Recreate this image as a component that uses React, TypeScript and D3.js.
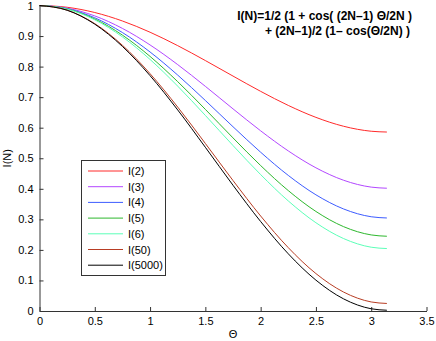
import React, { useEffect, useRef } from 'react';
import * as d3 from 'd3';

// sample angles (x) and I(N) values
const theta = [0, 0.25, 0.5, 0.75, 1, 1.25, 1.5, 1.75, 2, 2.25, 2.5, 2.75, 3, 3.1416];
const i2 = [1, 0.9942, 0.977, 0.9493, 0.9125, 0.8686, 0.8198, 0.769, 0.719, 0.6729, 0.6338, 0.6047, 0.5884, 0.5858];
const i3 = [1, 0.9914, 0.9659, 0.925, 0.8709, 0.8065, 0.7354, 0.6617, 0.5898, 0.524, 0.4687, 0.428, 0.4055, 0.4019];
const i4 = [1, 0.9898, 0.9597, 0.9115, 0.8478, 0.7722, 0.6891, 0.6032, 0.5197, 0.4438, 0.3803, 0.334, 0.3085, 0.3045];
const i5 = [1, 0.9888, 0.9559, 0.903, 0.8333, 0.7507, 0.66, 0.5666, 0.4761, 0.3941, 0.3258, 0.2761, 0.249, 0.2447];
const i6 = [1, 0.9881, 0.9532, 0.8972, 0.8233, 0.736, 0.6402, 0.5417, 0.4465, 0.3603, 0.2889, 0.2371, 0.2088, 0.2044];
const i50 = [1, 0.9849, 0.9406, 0.8698, 0.7768, 0.6675, 0.5484, 0.4271, 0.311, 0.2073, 0.1225, 0.062, 0.0296, 0.0247];
const i5000 = [1, 0.9845, 0.9389, 0.866, 0.7704, 0.6581, 0.5359, 0.4116, 0.2929, 0.1872, 0.101, 0.0397, 0.0073, 0.0025];

const seriesNames = ['I(2)', 'I(3)', 'I(4)', 'I(5)', 'I(6)', 'I(50)', 'I(5000)'];
const seriesValues = [i2, i3, i4, i5, i6, i50, i5000];
const colors = ['#ff2a2a', '#b347ff', '#3d5cff', '#2eb82e', '#5cffb8', '#b83d24', '#000000'];

const xTicks = [0, 0.5, 1, 1.5, 2, 2.5, 3, 3.5];
const yTicks = [0, 0.1, 0.2, 0.3, 0.4, 0.5, 0.6, 0.7, 0.8, 0.9, 1];

const W = 436;
const H = 341;
const FONT = '"Liberation Sans", Arial, Helvetica, sans-serif';

export default function App() {
    const ref = useRef<SVGSVGElement>(null);

    useEffect(() => {
        document.body.style.margin = '0';
        const svg = d3.select(ref.current);
        svg.selectAll('*').remove();

        const x = d3.scaleLinear().domain([0, 3.5]).range([39.5, 426.5]);
        const y = d3.scaleLinear().domain([0, 1]).range([311, 5.5]);

        // axes, ticks pointing inward like matlab
        const xAxis = svg.append('g')
            .attr('transform', 'translate(0,' + y(0) + ')')
            .call(d3.axisBottom(x).tickValues(xTicks).tickSizeInner(-4).tickSizeOuter(0).tickPadding(6)
                .tickFormat(d => String(d)));
        const yAxis = svg.append('g')
            .attr('transform', 'translate(' + x(0) + ',0)')
            .call(d3.axisLeft(y).tickValues(yTicks).tickSizeInner(-4).tickSizeOuter(0).tickPadding(6)
                .tickFormat(d => String(d)));
        [xAxis, yAxis].forEach(a => {
            a.selectAll('path').attr('stroke', '#333');
            a.selectAll('line').attr('stroke', '#333');
            a.selectAll('text').attr('fill', '#000').style('font-family', FONT).style('font-size', '11px');
        });

        const line = d3.line<number>()
            .x((d, i) => x(theta[i]))
            .y(d => y(d))
            .curve(d3.curveMonotoneX);

        seriesValues.forEach((vals, k) => {
            svg.append('path')
                .attr('d', line(vals))
                .attr('fill', 'none')
                .attr('stroke', colors[k])
                .attr('stroke-width', 1);
        });

        // axis labels
        svg.append('text')
            .attr('x', (x(0) + x(3.5)) / 2)
            .attr('y', 338)
            .attr('text-anchor', 'middle')
            .style('font-family', FONT)
            .style('font-size', '11px')
            .text('Θ');
        svg.append('text')
            .attr('transform', 'translate(11,' + ((y(0) + y(1)) / 2) + ') rotate(-90)')
            .attr('text-anchor', 'middle')
            .style('font-family', FONT)
            .style('font-size', '11px')
            .text('I(N)');

        // formula annotation
        const title = svg.append('g')
            .style('font-family', FONT)
            .style('font-size', '12px')
            .style('font-weight', 'bold');
        title.append('text').attr('x', 412).attr('y', 20).attr('text-anchor', 'end')
            .text('I(N)=1/2 (1 + cos( (2N\u20131) \u0398/2N )');
        title.append('text').attr('x', 410).attr('y', 35).attr('text-anchor', 'end')
            .text('+ (2N\u20131)/2 (1\u2013 cos(\u0398/2N) )');

        // legend
        const lg = svg.append('g');
        lg.append('rect')
            .attr('x', 81.5).attr('y', 160.5)
            .attr('width', 84).attr('height', 115)
            .attr('fill', '#fff').attr('stroke', '#333');
        seriesNames.forEach((name, k) => {
            const ly = 171 + k * 15.7;
            lg.append('line')
                .attr('x1', 88).attr('x2', 123)
                .attr('y1', ly).attr('y2', ly)
                .attr('stroke', colors[k]);
            lg.append('text')
                .attr('x', 128).attr('y', ly + 4)
                .style('font-family', FONT)
                .style('font-size', '11px')
                .text(name);
        });
    }, []);

    return <svg ref={ref} width={W} height={H} style={{ display: 'block', background: '#fff' }}></svg>;
}
